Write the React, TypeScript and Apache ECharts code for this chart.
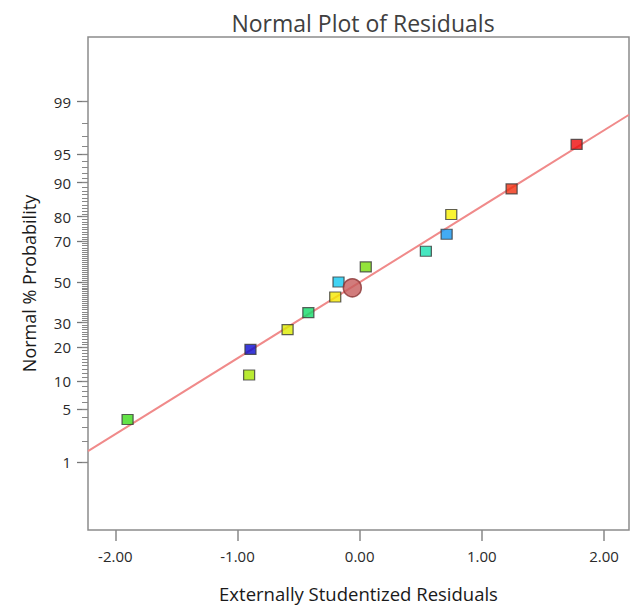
import React, { useEffect, useRef } from "react";
import * as echarts from "echarts";

// ---- data ----
const residuals = [-1.9, -0.905, -0.894, -0.59, -0.42, -0.2, -0.173, 0.05, 0.542, 0.712, 0.75, 1.244, 1.776];
const probabilities = [3.8, 11.5, 19.2, 26.9, 34.6, 42.3, 50.0, 57.7, 65.4, 73.1, 80.8, 88.5, 96.2];
const pointColors = [
  "#3ddc1a", "#a8e600", "#0a0ad0", "#dcec00", "#12dc6a", "#f5e800", "#12c8f0",
  "#78dc0a", "#18e0b0", "#1496f0", "#f8f000", "#f03010", "#ee0a0a",
];
const highlightResidual = [-0.06];
const highlightProbability = [47];
const fitLineX = [-2.224, 2.205];
const fitLineP = [1.45, 98.45];
const xTickValues = [-2, -1, 0, 1, 2];
const yMajorLabels = [1, 5, 10, 20, 30, 50, 70, 80, 90, 95, 99];
const yMinorPercents: number[] = [];
for (let p = 1; p <= 99; p++) yMinorPercents.push(p);

// inverse standard normal CDF (Acklam)
function probit(p: number): number {
  const a = [-3.969683028665376e1, 2.209460984245205e2, -2.759285104469687e2, 1.38357751867269e2, -3.066479806614716e1, 2.506628277459239];
  const b = [-5.447609879822406e1, 1.615858368580409e2, -1.556989798598866e2, 6.680131188771972e1, -1.328068155288572e1];
  const c = [-7.784894002430293e-3, -3.223964580411365e-1, -2.400758277161838, -2.549671348300000, 4.374664141464968, 2.938163982698783];
  const d = [7.784695709041462e-3, 3.224671290700398e-1, 2.445134137142996, 3.754408661907416];
  const pl = 0.02425;
  if (p < pl) {
    const q = Math.sqrt(-2 * Math.log(p));
    return (((((c[0] * q + c[1]) * q + c[2]) * q + c[3]) * q + c[4]) * q + c[5]) / ((((d[0] * q + d[1]) * q + d[2]) * q + d[3]) * q + 1);
  }
  if (p <= 1 - pl) {
    const q = p - 0.5;
    const r = q * q;
    return ((((((a[0] * r + a[1]) * r + a[2]) * r + a[3]) * r + a[4]) * r + a[5]) * q) / (((((b[0] * r + b[1]) * r + b[2]) * r + b[3]) * r + b[4]) * r + 1);
  }
  const q = Math.sqrt(-2 * Math.log(1 - p));
  return -(((((c[0] * q + c[1]) * q + c[2]) * q + c[3]) * q + c[4]) * q + c[5]) / ((((d[0] * q + d[1]) * q + d[2]) * q + d[3]) * q + 1);
}

const FONT = "'Open Sans', 'Noto Sans', sans-serif";

export default function App() {
  const ref = useRef<HTMLDivElement>(null);
  useEffect(() => {
    if (!ref.current) return;
    const chart = echarts.init(ref.current, undefined, { renderer: "svg" });
    const majorZ = yMajorLabels.map((p) => probit(p / 100));
    const minorZ = yMinorPercents.map((p) => probit(p / 100));
    const yMin = -3.2;
    const yMax = 3.16;
    const labelFor = (v: number) => {
      let best = 0;
      let bd = Infinity;
      majorZ.forEach((z, i) => {
        const dd = Math.abs(z - v);
        if (dd < bd) { bd = dd; best = i; }
      });
      return String(yMajorLabels[best]);
    };
    chart.setOption({
      animation: false,
      backgroundColor: "#ffffff",
      title: {
        text: "Normal Plot of Residuals",
        left: 358,
        top: 6,
        textAlign: "center",
        textStyle: { fontFamily: FONT, fontSize: 23, fontWeight: "normal", color: "#404040" },
      },
      grid: {
        left: 88, right: 3, top: 37, bottom: 76,
        show: true, borderColor: "#8c8c8c", borderWidth: 1.5, backgroundColor: "#ffffff",
      },
      xAxis: {
        type: "value",
        min: fitLineX[0],
        max: fitLineX[1],
        position: "bottom",
        axisLine: { show: false, onZero: false },
        splitLine: { show: false },
        axisTick: { show: true, length: 11, customValues: xTickValues, lineStyle: { color: "#888", width: 1.5 } },
        axisLabel: {
          customValues: xTickValues,
          formatter: (v: number) => v.toFixed(2),
          margin: 18,
          fontFamily: FONT, fontSize: 15, color: "#2a2a2a",
        },
        name: "Externally Studentized Residuals",
        nameLocation: "middle",
        nameGap: 54,
        nameTextStyle: { fontFamily: FONT, fontSize: 18.5, color: "#1a1a1a" },
      },
      yAxis: [
        {
          type: "value",
          min: yMin, max: yMax,
          position: "left",
          axisLine: { show: false, onZero: false },
          splitLine: { show: false },
          axisTick: { show: true, length: 11, customValues: majorZ, lineStyle: { color: "#777", width: 1.3 } },
          axisLabel: {
            customValues: majorZ,
            formatter: (v: number) => labelFor(v),
            margin: 17,
            fontFamily: FONT, fontSize: 15, color: "#2a2a2a",
          },
          name: "Normal % Probability",
          nameLocation: "middle",
          nameGap: 50,
          nameTextStyle: { fontFamily: FONT, fontSize: 18, color: "#1a1a1a" },
        },
        {
          type: "value",
          min: yMin, max: yMax,
          position: "left",
          offset: 0,
          axisLine: { show: false, onZero: false },
          splitLine: { show: false },
          axisTick: { show: true, length: 6, customValues: minorZ, lineStyle: { color: "#888", width: 1 } },
          axisLabel: { show: false },
        },
      ],
      series: [
        {
          type: "line",
          yAxisIndex: 0,
          data: fitLineX.map((x, i) => [x, probit(fitLineP[i] / 100)]),
          symbol: "none",
          silent: true,
          lineStyle: { color: "#f08a8a", width: 2 },
          z: 1,
        },
        {
          type: "scatter",
          yAxisIndex: 0,
          symbol: "rect",
          symbolSize: [11, 10],
          data: residuals.map((r, i) => ({
            value: [r, probit(probabilities[i] / 100)],
            itemStyle: { color: pointColors[i] },
          })),
          itemStyle: { borderColor: "#3a3a3a", borderWidth: 1.2 },
          z: 2,
        },
        {
          type: "scatter",
          yAxisIndex: 0,
          symbol: "circle",
          symbolSize: 18,
          data: highlightResidual.map((r, i) => [r, probit(highlightProbability[i] / 100)]),
          itemStyle: { color: "#c65b5b", borderColor: "#8a3535", borderWidth: 1.5 },
          z: 3,
        },
      ],
    });
    return () => chart.dispose();
  }, []);
  return (
    <div
      ref={ref}
      style={{ position: "fixed", left: 0, top: 0, width: 632, height: 608 }}
    />
  );
}
